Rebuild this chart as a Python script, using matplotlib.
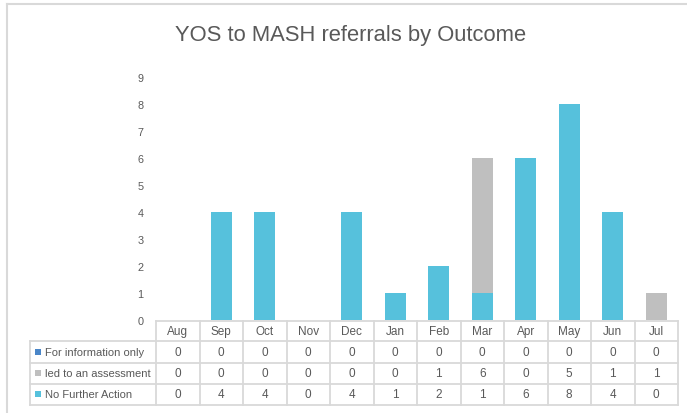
import matplotlib.pyplot as plt
import numpy as np

months = ['Aug', 'Sep', 'Oct', 'Nov', 'Dec', 'Jan', 'Feb', 'Mar', 'Apr', 'May', 'Jun', 'Jul']
info_only = [0, 0, 0, 0, 0, 0, 0, 0, 0, 0, 0, 0]
assessment = [0, 0, 0, 0, 0, 0, 1, 6, 0, 5, 1, 1]
no_further = [0, 4, 4, 0, 4, 1, 2, 1, 6, 8, 4, 0]
series_names = ['For information only', 'led to an assessment', 'No Further Action']
series_colors = ['#4A86C8', '#BFBFBF', '#56C1DC']

W, H = 687, 414
txt_col = '#595959'
line_col = '#D9D9D9'
plt.rcParams['font.family'] = ['Liberation Sans', 'DejaVu Sans']

fig = plt.figure(figsize=(W / 100, H / 100), dpi=100)

def fx(px):
    return px / W

def fy(py):
    return 1 - py / H

# outer frame (only top and left visible)
fig.add_artist(plt.Line2D([fx(6.5), fx(6.5)], [fy(4.5), 0], color='#D9D9D9', lw=1.5))
fig.add_artist(plt.Line2D([fx(6.5), 1], [fy(4.5), fy(4.5)], color='#D9D9D9', lw=1.5))

fig.text(fx(351), fy(36), 'YOS to MASH referrals by Outcome', ha='center', va='center',
         fontsize=15.8, color=txt_col)

# bars, drawn overlapped (100% overlap), last series on top
ax = fig.add_axes([fx(156), fy(321), fx(678) - fx(156), fy(78) - fy(321)])
x = np.arange(len(months))
for vals, c in zip([info_only, assessment, no_further], series_colors):
    ax.bar(x, vals, width=0.48, color=c, edgecolor='none')
ax.set_xlim(-0.5, 11.5)
ax.set_ylim(0, 9)
ax.set_yticks(range(10))
ax.set_xticks([])
ax.tick_params(axis='y', length=0, pad=9, labelsize=7.8, labelcolor=txt_col)
for s in ax.spines.values():
    s.set_visible(False)

# data table
tax = fig.add_axes([0, 0, 1, 1])
tax.set_xlim(0, W)
tax.set_ylim(H, 0)
tax.axis('off')
x0, xl, xr = 30, 156, 678
cw = (xr - xl) / len(months)
rows_y = [322, 342, 364, 385, 406]
lw = 1.3
# horizontal lines
tax.plot([xl, xr], [rows_y[0]] * 2, color=line_col, lw=lw)
for yy in rows_y[1:]:
    tax.plot([x0, xr], [yy, yy], color=line_col, lw=lw)
# vertical lines
tax.plot([x0, x0], [rows_y[1], rows_y[-1]], color=line_col, lw=lw)
for k in range(len(months) + 1):
    xx = xl + k * cw
    tax.plot([xx, xx], [rows_y[0], rows_y[-1]], color=line_col, lw=lw)

fs = 8.5
for i, m in enumerate(months):
    tax.text(xl + (i + 0.5) * cw, (rows_y[0] + rows_y[1]) / 2, m, ha='center', va='center',
             fontsize=fs, color=txt_col)

for r, (name, vals, c) in enumerate(zip(series_names, [info_only, assessment, no_further], series_colors)):
    yc = (rows_y[r + 1] + rows_y[r + 2]) / 2
    tax.add_patch(plt.Rectangle((35, yc - 3.5), 6, 6, color=c, lw=0))
    tax.text(45, yc, name, ha='left', va='center', fontsize=8.0, color=txt_col)
    for i, v in enumerate(vals):
        tax.text(xl + (i + 0.5) * cw, yc, str(v), ha='center', va='center',
                 fontsize=fs, color=txt_col)

fig.savefig('out.png', dpi=100)
